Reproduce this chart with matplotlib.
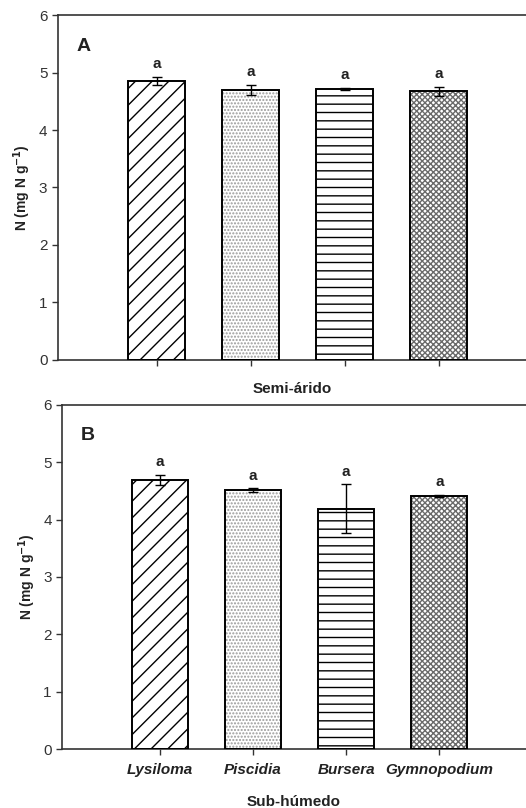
import matplotlib
matplotlib.use("Agg")
import matplotlib.pyplot as plt
import numpy as np

plt.rcParams['font.family'] = ['Liberation Sans', 'DejaVu Sans']
plt.rcParams['hatch.linewidth'] = 1.0

species = ['Lysiloma', 'Piscidia', 'Bursera', 'Gymnopodium']
semi_mean = [4.85, 4.70, 4.71, 4.67]
semi_err = [0.075, 0.09, 0.02, 0.08]
sub_mean = [4.69, 4.52, 4.19, 4.41]
sub_err = [0.09, 0.03, 0.43, 0.02]
letters_semi = ['a', 'a', 'a', 'a']
letters_sub = ['a', 'a', 'a', 'a']

hatches = ['//', '.....', '--', 'xxxxxx']
hatch_cols = ['black', '#9a9a9a', 'black', '#6a6a6a']

fig = plt.figure(figsize=(5.26, 8.08), dpi=100)
axA = fig.add_axes([0.110, 0.5545, 0.89, 0.4269])
axB = fig.add_axes([0.118, 0.073, 0.882, 0.4258])


def panel(ax, means, errs, letters, tag, xlabel, show_names):
    x = np.arange(len(means))
    for i in range(len(means)):
        ax.bar(x[i], means[i], width=0.6, color='white', edgecolor=hatch_cols[i],
               hatch=hatches[i], linewidth=0, zorder=2)
    ax.bar(x, means, width=0.6, color='none', edgecolor='black', linewidth=1.4, zorder=3)
    ax.errorbar(x, means, yerr=errs, fmt='none', ecolor='black', elinewidth=1.0,
                capsize=3.5, capthick=1.0, zorder=4)
    for i in range(len(means)):
        ax.annotate(letters[i], (x[i], means[i] + errs[i]), xytext=(0, 4),
                    textcoords='offset points', ha='center', va='bottom',
                    fontsize=11, fontweight='bold', color='#222222')
    ax.set_ylim(0, 6)
    ax.set_xlim(-1.05, 3.93)
    ax.set_yticks(range(0, 7))
    ax.set_xticks(x)
    if show_names:
        ax.set_xticklabels(species, fontstyle='italic', fontweight='bold', fontsize=9.5)
    else:
        ax.set_xticklabels([])
    ax.tick_params(axis='both', direction='out', length=4, width=1.0, labelsize=11,
                   colors='#333333', labelcolor='#333333')
    ax.tick_params(axis='x', labelcolor='#222222', pad=6)
    for s in ['left', 'bottom', 'top']:
        ax.spines[s].set_linewidth(1.2)
        ax.spines[s].set_color('#333333')
    ax.spines['right'].set_visible(False)
    ax.set_ylabel('N (mg N g$^{\\mathbf{-1}}$)', fontsize=10, fontweight='bold',
                  color='#222222', labelpad=4)
    ax.set_xlabel(xlabel, fontsize=11, fontweight='bold', color='#222222',
                  labelpad=13 if show_names else 6)
    ax.text(0.04, 0.91, tag, transform=ax.transAxes, fontsize=14, fontweight='bold',
            color='#222222', va='center', ha='left')


panel(axA, semi_mean, semi_err, letters_semi, 'A', 'Semi-árido', False)
panel(axB, sub_mean, sub_err, letters_sub, 'B', 'Sub-húmedo', True)

fig.savefig('out.png', dpi=100)
